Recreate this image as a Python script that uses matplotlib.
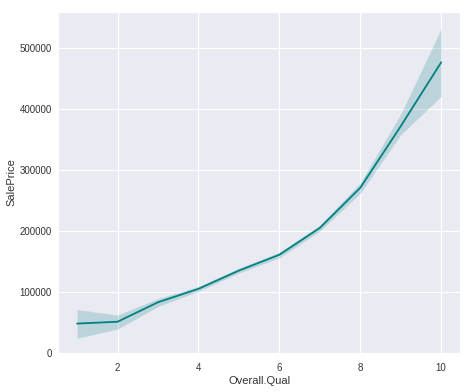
import numpy as np
import matplotlib.pyplot as plt
import seaborn as sns

# mean SalePrice per Overall.Qual with 95% CI band
overall_qual = [1, 2, 3, 4, 5, 6, 7, 8, 9, 10]
sale_price = [48000, 51000, 83000, 105000, 135000, 161000, 205000, 271000, 372000, 477000]
ci_low = [24000, 39000, 76000, 101000, 131000, 156000, 200000, 262000, 358000, 421000]
ci_high = [71000, 62000, 89000, 109000, 139000, 165000, 210000, 279000, 392000, 532000]

sns.set_style('darkgrid')
plt.rcParams['font.family'] = ['Liberation Sans', 'DejaVu Sans']

fig, ax = plt.subplots(figsize=(4.72, 3.92), dpi=100)
ax.fill_between(overall_qual, ci_low, ci_high, color='teal', alpha=0.2, linewidth=0)
ax.plot(overall_qual, sale_price, color='teal', linewidth=1.3)

ax.set_xticks([2, 4, 6, 8, 10])
ax.set_yticks([0, 100000, 200000, 300000, 400000, 500000])
ax.set_xlim(0.53, 10.47)
ax.set_ylim(0, 560000)
ax.tick_params(axis='y', labelsize=7, colors='#333333', pad=1)
ax.tick_params(axis='x', labelsize=7, colors='#333333', pad=4)
ax.set_xlabel('Overall.Qual', fontsize=8, color='#333333', labelpad=2)
ax.set_ylabel('SalePrice', fontsize=8, color='#333333', labelpad=2)

fig.subplots_adjust(left=0.123, right=0.975, top=0.97, bottom=0.1)
fig.savefig('out.png', dpi=100)
plt.close(fig)
